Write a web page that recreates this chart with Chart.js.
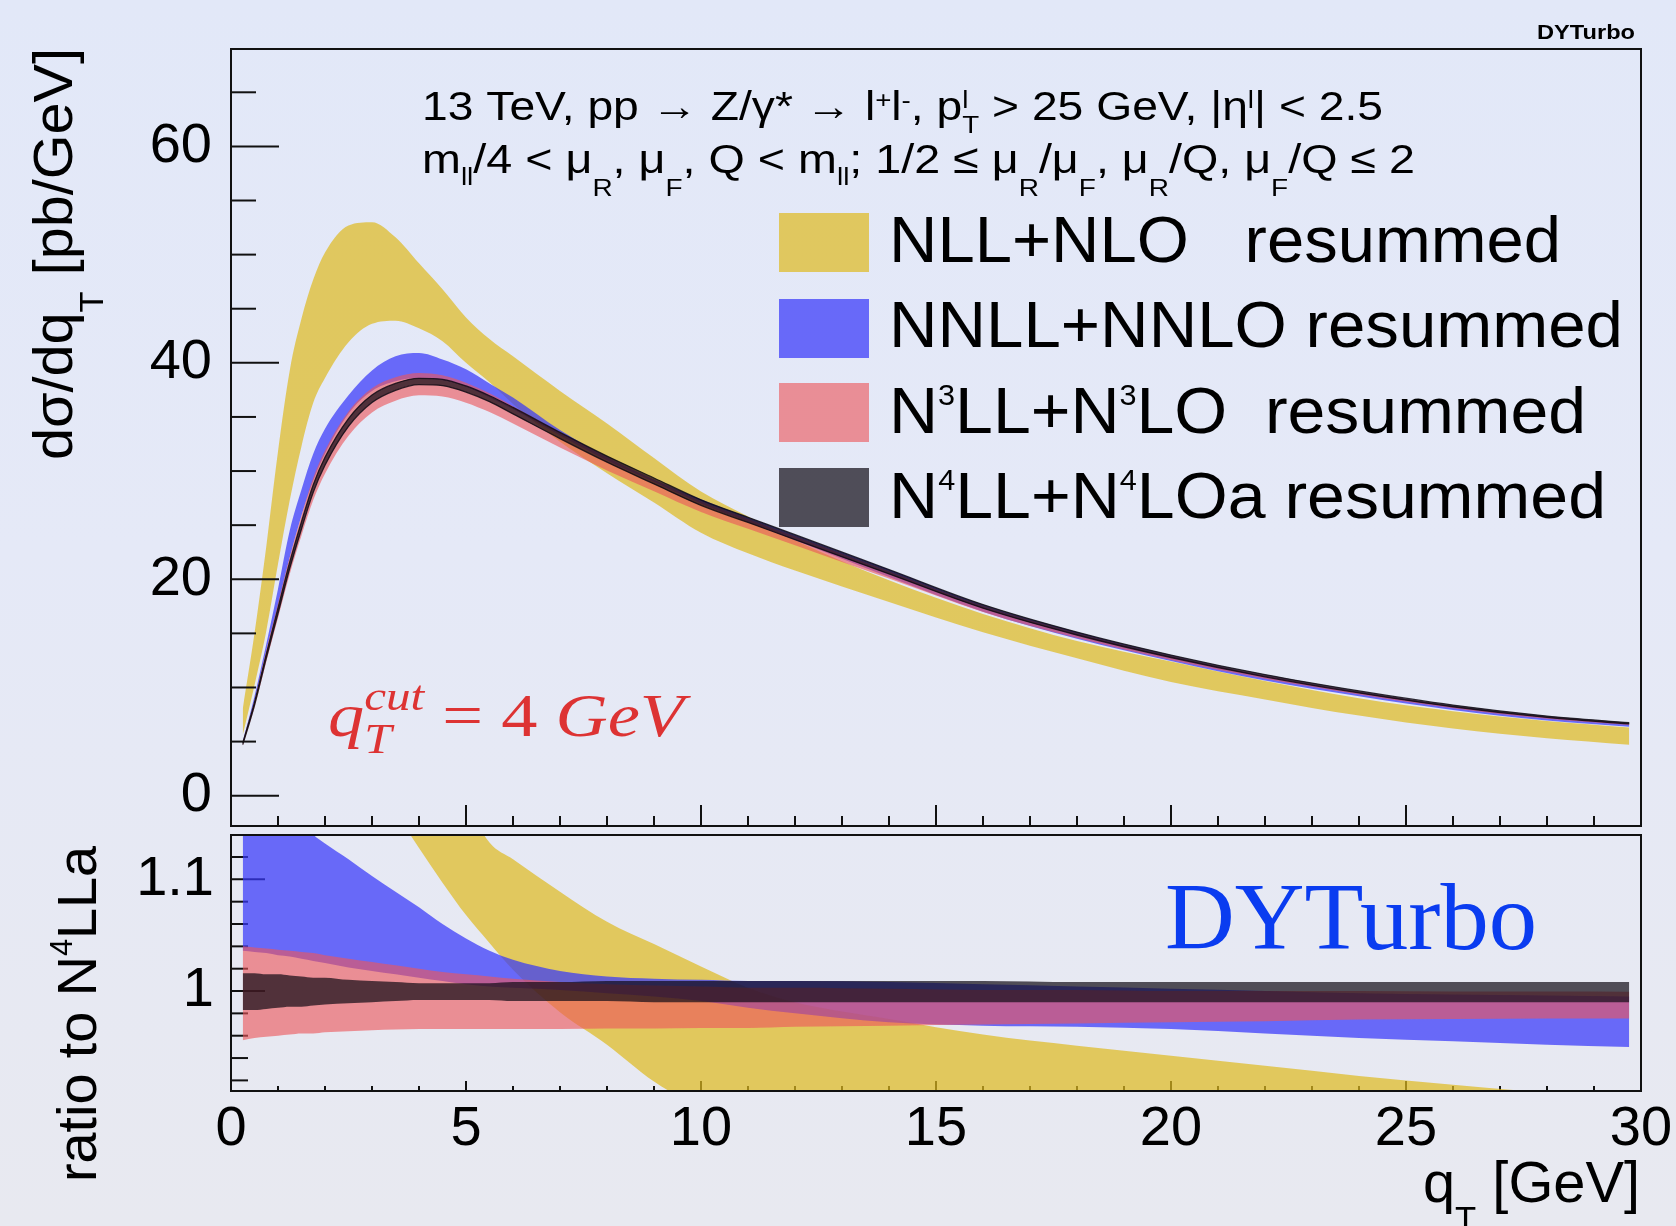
<!DOCTYPE html>
<html>
<head>
<meta charset="utf-8">
<title>DYTurbo qT spectrum</title>
<script src="https://cdn.jsdelivr.net/npm/chart.js@4.4.1/dist/chart.umd.min.js"></script>
<style>
html,body{margin:0;padding:0;width:1676px;height:1226px;overflow:hidden;}
body{background:linear-gradient(180deg,#e2e8f8 0%,#e5e9f7 45%,#e8e9f0 100%);}
canvas{position:absolute;left:0;top:0;}
</style>
</head>
<body>
<canvas id="main" width="1676" height="1226"></canvas>
<canvas id="ratio" width="1676" height="1226"></canvas>
<script>
// ---------- data ----------
// qT grid [GeV]
const qT = [0.25,0.5,0.75,1,1.25,1.5,1.75,2,2.5,3,3.5,4,4.5,5,5.5,6,7,8,9,10,11,12,14,16,18,20,22,24,26,28,29.75];

// dsigma/dqT [pb/GeV]: lower / upper edge of each scale-variation band
const nllLo  = [5.6,10.2,15.2,21.4,27.3,32.3,36.3,38.6,41.9,43.6,43.9,43.2,42.0,40.0,38.2,36.2,32.7,29.8,27.1,24.3,22.4,20.8,17.9,15.1,12.7,10.5,8.9,7.4,6.2,5.3,4.7];
const nllHi  = [8.0,15.0,23.0,31.8,39.3,44.1,47.7,50.2,52.7,53.0,51.6,49.2,46.8,44.2,42.2,40.6,37.4,34.4,31.2,28.1,25.8,23.6,19.9,16.8,14.3,12.4,10.6,9.0,7.8,6.9,6.3];
const nnllLo = [4.9,8.8,13.4,17.6,22.0,25.9,29.1,31.6,35.3,37.4,38.3,38.6,38.4,37.8,36.8,35.7,33.3,31.0,29.0,27.0,25.3,23.6,20.2,17.0,14.5,12.45,10.65,9.2,7.93,6.95,6.37];
const nnllHi = [5.0,9.2,14.0,19.1,24.5,28.3,31.6,33.9,37.0,39.3,40.6,40.9,40.3,39.4,38.1,36.8,33.8,31.3,29.2,27.4,25.7,24.1,20.9,17.6,15.1,12.93,11.1,9.6,8.3,7.27,6.67];
const n3llLo = [4.59,8.14,12.37,16.42,20.47,24.05,27.32,29.76,33.26,35.42,36.50,37.00,36.90,36.32,35.45,34.39,32.17,30.06,28.13,26.21,24.66,23.14,20.06,16.98,14.57,12.54,10.80,9.36,8.09,7.12,6.54];
const n3llHi = [4.99,8.83,13.39,17.73,22.07,25.88,29.37,31.89,35.50,37.65,38.67,39.07,38.85,38.16,37.18,35.99,33.57,31.29,29.25,27.21,25.58,23.97,20.74,17.52,15.02,12.9,11.1,9.6,8.30,7.30,6.70];
const n4llLo = [4.72,8.36,12.69,16.84,21.0,24.65,28.03,30.53,34.12,36.33,37.46,37.99,37.89,37.3,36.41,35.28,33.0,30.82,28.81,26.83,25.25,23.66,20.49,17.33,14.85,12.77,10.99,9.5,8.22,7.23,6.63];
const n4llHi = [4.88,8.64,13.09,17.36,21.6,25.33,28.74,31.27,34.85,37.03,38.1,38.57,38.47,37.86,36.96,35.88,33.57,31.38,29.36,27.34,25.73,24.12,20.89,17.66,15.12,13.0,11.19,9.68,8.37,7.36,6.75];

// ratio to N4LLa: lower / upper edge of each band
const nllRatioLo  = [1.15,1.20,1.18,1.25,1.28,1.29,1.28,1.25,1.21,1.19,1.16,1.128,1.097,1.068,1.043,1.019,0.981,0.952,0.919,0.895,0.875,0.862,0.85,0.84,0.83,0.81,0.79,0.77,0.75,0.73,0.71];
const nllRatioHi  = [1.67,1.75,1.78,1.85,1.84,1.76,1.68,1.62,1.53,1.44,1.37,1.29,1.23,1.17,1.133,1.118,1.089,1.062,1.042,1.022,1.003,0.990,0.975,0.961,0.951,0.942,0.933,0.924,0.916,0.909,0.904];
const nnllRatioLo = [1.036,1.035,1.034,1.032,1.031,1.029,1.027,1.025,1.021,1.018,1.015,1.012,1.009,1.006,1.004,1.003,1.001,0.998,0.995,0.991,0.985,0.980,0.972,0.969,0.968,0.966,0.962,0.958,0.955,0.952,0.950];
const nnllRatioHi = [1.23,1.21,1.195,1.18,1.165,1.152,1.140,1.132,1.118,1.103,1.089,1.075,1.060,1.047,1.036,1.028,1.018,1.013,1.011,1.010,1.009,1.009,1.008,1.006,1.004,1.002,1.000,0.998,0.997,0.996,0.995];
const n3llRatioLo = [0.956,0.958,0.959,0.960,0.961,0.962,0.962,0.963,0.964,0.965,0.9655,0.966,0.966,0.966,0.966,0.966,0.966,0.9665,0.9665,0.967,0.967,0.968,0.969,0.970,0.971,0.972,0.973,0.9745,0.975,0.9755,0.9755];
const n3llRatioHi = [1.040,1.039,1.038,1.037,1.036,1.035,1.034,1.032,1.029,1.026,1.023,1.020,1.017,1.015,1.013,1.011,1.008,1.006,1.005,1.004,1.003,1.003,1.002,1.001,1.001,1.000,1.000,1.000,0.9995,0.9995,0.9994];
const n4llRatioLo = [0.983,0.983,0.984,0.985,0.986,0.986,0.987,0.988,0.989,0.990,0.991,0.992,0.992,0.992,0.992,0.991,0.991,0.991,0.990,0.990,0.990,0.990,0.990,0.990,0.990,0.990,0.990,0.990,0.990,0.990,0.990];
const n4llRatioHi = [1.016,1.016,1.015,1.015,1.014,1.013,1.012,1.012,1.010,1.009,1.008,1.007,1.007,1.007,1.007,1.008,1.008,1.009,1.009,1.009,1.009,1.009,1.009,1.009,1.008,1.008,1.008,1.008,1.008,1.008,1.008];

// axis ticks and labels
const xTicks = [0,5,10,15,20,25,30];
const mainYTicks = [0,20,40,60];
const ratioYTicks = [1,1.1];
const ratioYLabels = ['1','1.1'];

// ---------- styling ----------
const SANS = '"Liberation Sans", Arial, Helvetica, sans-serif';
const SERIF = '"Liberation Serif", "Times New Roman", Times, serif';
const C_NLL  = 'rgba(222,185,30,0.70)';
const C_NNLL = 'rgba(55,55,250,0.72)';
const C_N3LL = 'rgba(235,85,90,0.62)';
const C_N4LL = 'rgba(15,10,20,0.70)';

// ---------- rich text (sub/superscripts) ----------
function layoutRich(ctx, parts, o) {
  const s = o.size, k = o.script || 0.6;
  const font = (sz, st) => `${st || o.style || 'normal'} ${o.weight || 'normal'} ${sz}px ${o.family}`;
  const items = []; let w = 0;
  for (const p of parts) {
    if (typeof p === 'string' || p.t !== undefined) {
      const t = typeof p === 'string' ? p : p.t;
      const f = font(s, p.style); ctx.font = f;
      items.push({t, x: w, dy: 0, f}); w += ctx.measureText(t).width;
    } else {
      const f = font(s * (p.k || k), p.style); ctx.font = f; let adv = 0;
      if (p.sup !== undefined) { items.push({t: p.sup, x: w, dy: -s * (p.up ?? o.up ?? 0.38), f}); adv = Math.max(adv, ctx.measureText(p.sup).width); }
      if (p.sub !== undefined) { items.push({t: p.sub, x: w, dy: s * (p.down ?? o.down ?? 0.25), f}); adv = Math.max(adv, ctx.measureText(p.sub).width); }
      w += adv;
    }
  }
  return {items, w};
}
function textAt(ctx, parts, x, y, o, rot) {
  const {items, w} = layoutRich(ctx, parts, o);
  const sx = o.width ? o.width / w : 1;
  const off = o.align === 'right' ? -w : o.align === 'center' ? -w / 2 : 0;
  ctx.save();
  ctx.translate(x, y);
  if (rot) ctx.rotate(rot);
  ctx.scale(sx, 1);
  ctx.fillStyle = o.color || '#000';
  ctx.textBaseline = 'alphabetic'; ctx.textAlign = 'left';
  for (const it of items) { ctx.font = it.f; ctx.fillText(it.t, off + it.x, it.dy); }
  ctx.restore();
}

// ---------- bands ----------
function pts(arr) { return arr.map((y, i) => ({x: qT[i], y})); }
function band(lo, hi, color, order, edge) {
  const common = {pointRadius: 0, pointHoverRadius: 0, cubicInterpolationMode: 'monotone', order,
                  borderWidth: edge ? 1.3 : 0, borderColor: edge || 'rgba(0,0,0,0)'};
  return [
    Object.assign({data: pts(lo), fill: false}, common),
    Object.assign({data: pts(hi), fill: '-1', backgroundColor: color}, common)
  ];
}

function line(ctx, x1, y1, x2, y2) { ctx.beginPath(); ctx.moveTo(x1, y1); ctx.lineTo(x2, y2); ctx.stroke(); }

// ---------- main panel ----------
const mainDecor = {
  id: 'mainDecor',
  afterDatasetsDraw(chart) {
    const {ctx, chartArea: a, scales: {x, y}} = chart;
    ctx.save();
    ctx.strokeStyle = '#111'; ctx.lineWidth = 2;
    for (let v = 0; v <= 65; v += 5) {
      const py = y.getPixelForValue(v);
      line(ctx, a.left, py, a.left + (mainYTicks.includes(v) ? 48 : 25), py);
    }
    for (let q = 1; q < 30; q++) {
      const px = x.getPixelForValue(q);
      line(ctx, px, a.bottom, px, a.bottom - (q % 5 === 0 ? 21 : 10));
    }
    ctx.strokeRect(a.left, a.top, a.right - a.left, a.bottom - a.top);
    ctx.restore();
  },
  afterDraw(chart) {
    const ctx = chart.ctx;
    // y-axis title
    textAt(ctx, ['dσ/dq', {sub: 'T', down: 0.55}, ' [pb/GeV]'], 72, 254,
      {size: 56, family: SANS, width: 412, align: 'center'}, -Math.PI / 2);
    // process / cut description
    textAt(ctx, ['13 TeV, pp → Z/γ* → l', {sup: '+'}, 'l', {sup: '-'}, ', p', {sup: 'l', sub: 'T'},
                 ' > 25 GeV, |η', {sup: 'l'}, '| < 2.5'], 422, 120,
      {size: 41, family: SANS, width: 961, up: 0.3, down: 0.32});
    textAt(ctx, ['m', {sub: 'll'}, '/4 < μ', {sub: 'R', down: 0.55}, ', μ', {sub: 'F', down: 0.55},
                 ', Q < m', {sub: 'll'}, '; 1/2 ≤ μ', {sub: 'R', down: 0.55}, '/μ', {sub: 'F', down: 0.55},
                 ', μ', {sub: 'R', down: 0.55}, '/Q, μ', {sub: 'F', down: 0.55}, '/Q ≤ 2'], 422, 173,
      {size: 41, family: SANS, width: 993, down: 0.3});
    // small tag in the corner
    textAt(ctx, ['DYTurbo'], 1635, 39, {size: 21, family: SANS, weight: 'bold', width: 98, align: 'right'});
    // legend
    const rows = [
      {c: C_NLL,  t: ['NLL+NLO   resummed'], w: 672},
      {c: C_NNLL, t: ['NNLL+NNLO resummed'], w: 734},
      {c: C_N3LL, t: ['N', {sup: '3'}, 'LL+N', {sup: '3'}, 'LO  resummed'], w: 697},
      {c: C_N4LL, t: ['N', {sup: '4'}, 'LL+N', {sup: '4'}, 'LOa resummed'], w: 717}
    ];
    const boxTop = [213, 299, 383, 468], base = [262, 347, 433, 518];
    rows.forEach((r, i) => {
      ctx.fillStyle = r.c; ctx.fillRect(779, boxTop[i], 90, 59);
      textAt(ctx, r.t, 889, base[i], {size: 64, family: SANS, width: r.w, script: 0.45, up: 0.44});
    });
    // cut annotation
    textAt(ctx, [{t: 'q'}, {sup: 'cut', sub: 'T', k: 0.68, up: 0.42, down: 0.28}, {t: ' = 4 ', style: 'normal'}, {t: 'GeV'}],
      328, 736, {size: 62, family: SERIF, style: 'italic', width: 356, color: '#dd3333'});
  }
};

new Chart(document.getElementById('main'), {
  type: 'line',
  data: {
    datasets: [
      ...band(nllLo, nllHi, C_NLL, 4),
      ...band(nnllLo, nnllHi, C_NNLL, 3),
      ...band(n3llLo, n3llHi, C_N3LL, 2),
      ...band(n4llLo, n4llHi, C_N4LL, 1, 'rgba(15,10,20,0.85)')
    ]
  },
  options: {
    responsive: false, animation: false, devicePixelRatio: 1, events: [],
    layout: {padding: {top: 49, right: 35, bottom: 400, left: 0}},
    plugins: {legend: {display: false}, tooltip: {enabled: false}},
    scales: {
      x: {type: 'linear', min: 0, max: 30, display: false},
      y: {
        type: 'linear', min: -2.8, max: 69,
        afterFit: s => { s.width = 231; },
        afterBuildTicks: s => { s.ticks = mainYTicks.map(v => ({value: v})); },
        grid: {display: false}, border: {display: false},
        ticks: {font: {family: SANS, size: 56}, color: '#000', padding: 11, callback: v => String(v)}
      }
    }
  },
  plugins: [mainDecor]
});

// ---------- ratio panel ----------
const ratioDecor = {
  id: 'ratioDecor',
  beforeDatasetsDraw(chart) {
    const {ctx, chartArea: a, scales: {x, y}} = chart;
    ctx.save();
    ctx.strokeStyle = '#111'; ctx.lineWidth = 2;
    for (let k = 46; k <= 56; k++) {
      const v = k / 50;
      const major = k === 50 || k === 55;
      line(ctx, a.left, y.getPixelForValue(v), a.left + (major ? 34 : 17), y.getPixelForValue(v));
    }
    for (let q = 1; q < 30; q++) {
      const px = x.getPixelForValue(q);
      line(ctx, px, a.bottom, px, a.bottom - (q % 5 === 0 ? 10 : 5));
    }
    ctx.restore();
  },
  afterDraw(chart) {
    const {ctx, chartArea: a} = chart;
    ctx.save();
    ctx.strokeStyle = '#111'; ctx.lineWidth = 2;
    ctx.strokeRect(a.left, a.top, a.right - a.left, a.bottom - a.top);
    ctx.restore();
    textAt(ctx, ['DYTurbo'], 1165, 949, {size: 96, family: SERIF, width: 372, color: '#0a3cf0'});
    textAt(ctx, ['ratio to N', {sup: '4', up: 0.42}, 'LLa'], 96, 1014,
      {size: 56, family: SANS, width: 336, align: 'center', script: 0.55}, -Math.PI / 2);
    textAt(ctx, ['q', {sub: 'T', down: 0.5}, ' [GeV]'], 1640, 1202,
      {size: 57, family: SANS, width: 217, align: 'right'});
  }
};

new Chart(document.getElementById('ratio'), {
  type: 'line',
  data: {
    datasets: [
      ...band(nllRatioLo, nllRatioHi, C_NLL, 4),
      ...band(nnllRatioLo, nnllRatioHi, C_NNLL, 3),
      ...band(n3llRatioLo, n3llRatioHi, C_N3LL, 2),
      ...band(n4llRatioLo, n4llRatioHi, C_N4LL, 1)
    ]
  },
  options: {
    responsive: false, animation: false, devicePixelRatio: 1, events: [],
    layout: {padding: {top: 835, right: 35, bottom: 35, left: 0}},
    plugins: {legend: {display: false}, tooltip: {enabled: false}},
    scales: {
      x: {
        type: 'linear', min: 0, max: 30,
        afterFit: s => { s.height = 100; },
        afterBuildTicks: s => { s.ticks = xTicks.map(v => ({value: v})); },
        grid: {display: false}, border: {display: false},
        ticks: {font: {family: SANS, size: 56, lineHeight: 1}, color: '#000', padding: 3,
                maxRotation: 0, minRotation: 0, autoSkip: false, callback: v => String(v)}
      },
      y: {
        type: 'linear', min: 0.9105, max: 1.1397,
        afterFit: s => { s.width = 231; },
        afterBuildTicks: s => { s.ticks = ratioYTicks.map(v => ({value: v})); },
        grid: {display: false}, border: {display: false},
        ticks: {font: {family: SANS, size: 56}, color: '#000', padding: 9,
                callback: v => ratioYLabels[ratioYTicks.indexOf(v)]}
      }
    }
  },
  plugins: [ratioDecor]
});
</script>
</body>
</html>
